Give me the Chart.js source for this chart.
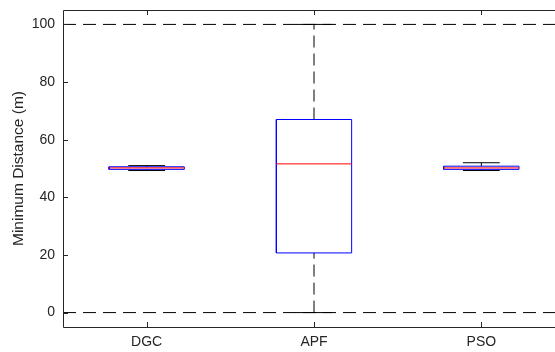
<!DOCTYPE html>
<html>
<head>
<meta charset="utf-8">
<script src="https://cdn.jsdelivr.net/npm/chart.js@4.4.0/dist/chart.umd.min.js"></script>
<style>
html,body{margin:0;padding:0;background:#fff;overflow:hidden;width:555px;height:352px;}
#wrap{width:570px;height:352px;}
</style>
</head>
<body>
<div id="wrap"><canvas id="c" width="570" height="352"></canvas></div>
<script>
// ---- data ----
const categories = ['DGC', 'APF', 'PSO'];
const whiskerLow  = [49.3, 0.0, 49.3];
const q1          = [49.7, 20.7, 49.7];
const medians     = [50.2, 51.6, 50.2];
const q3          = [50.6, 67.0, 50.8];
const whiskerHigh = [51.0, 100.0, 52.0];
const refLines    = [0, 100];
const yTicks      = [0, 20, 40, 60, 80, 100];

// ---- styles ----
const BOX_HW = 0.225, CAP_HW = 0.11;
const TXT = '#262626';
const FONT = "'Liberation Sans', Arial, Helvetica, sans-serif";

const datasets = [];
function seg(points, color, dash, order) {
  datasets.push({
    data: points, borderColor: color, borderWidth: 1, borderDash: dash || [],
    pointRadius: 0, fill: false, tension: 0, order: order || 0
  });
}
refLines.forEach(v => seg([{x: 0.5, y: v}, {x: 3.6, y: v}], '#000', [13, 7], 5));
categories.forEach((c, i) => {
  const x = i + 1;
  seg([{x, y: q3[i]}, {x, y: whiskerHigh[i]}], '#000', [12, 6], 4);
  seg([{x, y: whiskerLow[i]}, {x, y: q1[i]}], '#000', [12, 6], 4);
  seg([{x: x - CAP_HW, y: whiskerHigh[i]}, {x: x + CAP_HW, y: whiskerHigh[i]}], '#000', [], 3);
  seg([{x: x - CAP_HW, y: whiskerLow[i]}, {x: x + CAP_HW, y: whiskerLow[i]}], '#000', [], 3);
  seg([{x: x - BOX_HW, y: q1[i]}, {x: x + BOX_HW, y: q1[i]}, {x: x + BOX_HW, y: q3[i]},
       {x: x - BOX_HW, y: q3[i]}, {x: x - BOX_HW, y: q1[i]}], '#0000ff', [], 2);
  seg([{x: x - BOX_HW, y: medians[i]}, {x: x + BOX_HW, y: medians[i]}], '#ff0000', [], 1);
});

const framePlugin = {
  id: 'frame',
  afterDraw(chart) {
    const {ctx, chartArea: a, scales: {x, y}} = chart;
    ctx.save();
    ctx.strokeStyle = TXT;
    ctx.lineWidth = 1;
    ctx.beginPath();
    ctx.rect(Math.round(a.left) + 0.5, Math.round(a.top) + 0.5,
             Math.round(a.right - a.left), Math.round(a.bottom - a.top));
    const L = 5;
    x.ticks.forEach(t => {
      const px = Math.round(x.getPixelForValue(t.value)) + 0.5;
      ctx.moveTo(px, a.bottom); ctx.lineTo(px, a.bottom - L);
      ctx.moveTo(px, a.top); ctx.lineTo(px, a.top + L);
    });
    y.ticks.forEach(t => {
      const py = Math.round(y.getPixelForValue(t.value)) + 0.5;
      ctx.moveTo(a.left, py); ctx.lineTo(a.left + L, py);
      ctx.moveTo(a.right, py); ctx.lineTo(a.right - L, py);
    });
    ctx.stroke();
    ctx.restore();
  }
};

new Chart(document.getElementById('c'), {
  type: 'line',
  data: {datasets},
  options: {
    responsive: false,
    animation: false,
    events: [],
    layout: {padding: {left: 0, right: 5, top: 10, bottom: 0}},
    plugins: {legend: {display: false}, tooltip: {enabled: false}},
    scales: {
      x: {
        type: 'linear', min: 0.5, max: 3.5,
        afterBuildTicks: s => { s.ticks = categories.map((c, i) => ({value: i + 1})); },
        afterFit: s => { s.height = 25; s.paddingLeft = 0; s.paddingRight = 0; },
        grid: {display: false, drawTicks: false},
        border: {display: false},
        ticks: {
          color: TXT, font: {family: FONT, size: 14}, padding: 7, maxRotation: 0,
          callback: v => categories[Math.round(v) - 1]
        }
      },
      y: {
        min: -5, max: 105,
        afterBuildTicks: s => { s.ticks = yTicks.map(v => ({value: v})); },
        afterFit: s => { s.width = 63; s.paddingTop = 0; s.paddingBottom = 0; },
        grid: {display: false, drawTicks: false},
        border: {display: false},
        ticks: {color: TXT, font: {family: FONT, size: 14}, padding: 8},
        title: {display: true, text: 'Minimum Distance (m)', color: TXT,
                font: {family: FONT, size: 15.5}, padding: {top: 9, bottom: 0}}
      }
    }
  },
  plugins: [framePlugin]
});
</script>
</body>
</html>
